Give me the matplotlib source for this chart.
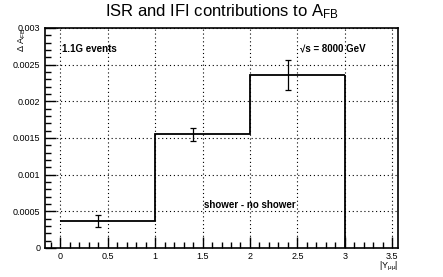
import matplotlib
matplotlib.use("Agg")
import matplotlib.pyplot as plt
import numpy as np
from matplotlib.ticker import MultipleLocator

plt.rcParams['font.family'] = ['Liberation Sans', 'DejaVu Sans']
plt.rcParams['mathtext.fontset'] = 'custom'
plt.rcParams['mathtext.rm'] = 'Liberation Sans'
plt.rcParams['mathtext.it'] = 'Liberation Sans:italic'
plt.rcParams['mathtext.bf'] = 'Liberation Sans:bold'

# histogram of delta A_FB vs |Y_mumu|
bin_edges = [0, 1, 2, 3]
delta_afb = [0.00037, 0.00155, 0.00236]
# points with errors drawn inside each bin
point_x = [0.4, 1.4, 2.4]
point_err = [0.00008, 0.000087, 0.000205]

fig = plt.figure(figsize=(4.43, 2.77), dpi=100)
ax = fig.add_axes([0.1005, 0.105, 0.798, 0.794])

ax.set_xlim(-0.165, 3.56)
ax.set_ylim(0, 0.003)

ax.xaxis.set_major_locator(MultipleLocator(0.5))
ax.xaxis.set_minor_locator(MultipleLocator(0.1))
ax.yaxis.set_major_locator(MultipleLocator(0.0005))
ax.yaxis.set_minor_locator(MultipleLocator(0.0001))

ax.grid(True, which='major', color='black', linestyle=(0, (1, 2.5)), lw=0.8)

ax.stairs(delta_afb, bin_edges, baseline=None, color='black', lw=1.3)
ax.vlines(bin_edges[-1], 0, delta_afb[-1], color='black', lw=1.3)
ax.errorbar(point_x, delta_afb, yerr=point_err, fmt='none', ecolor='black',
            elinewidth=0.9, capsize=2.5, capthick=0.9)

ax.tick_params(which='both', direction='in', top=False, right=False,
               labelsize=6.5, color='black', pad=3)
ax.tick_params(which='major', length=8, width=1)
ax.tick_params(which='minor', length=4, width=1)

def fmt_y(v, pos):
    if v == 0:
        return '0'
    return ('%.4f' % v).rstrip('0')

ax.yaxis.set_major_formatter(plt.FuncFormatter(fmt_y))
ax.xaxis.set_major_formatter(plt.FuncFormatter(lambda v, p: '%g' % v))

for s in ax.spines.values():
    s.set_linewidth(1.2)

ax.text(0.02, 0.00272, '1.1G events', fontsize=7, fontweight='bold',
        va='center', ha='left')
ax.text(2.53, 0.00272, '√s = 8000 GeV', fontsize=7, fontweight='bold',
        va='center', ha='left')
ax.text(1.52, 0.00059, 'shower - no shower', fontsize=7, fontweight='bold',
        va='center', ha='left')

fig.suptitle(r'ISR and IFI contributions to A$_{\mathrm{FB}}$', fontsize=12,
             x=0.5, y=0.99, va='top')
fig.text(22 / 443, 1 - 28 / 277, r'$\Delta$ A$_{\mathrm{FB}}$', rotation=90,
         ha='center', va='top', fontsize=6.5)
fig.text(398 / 443, 1 - 260 / 277, r'|Y$_{\mathrm{μμ}}$|', ha='right',
         va='top', fontsize=6.5)

fig.savefig('out.png', dpi=100)
